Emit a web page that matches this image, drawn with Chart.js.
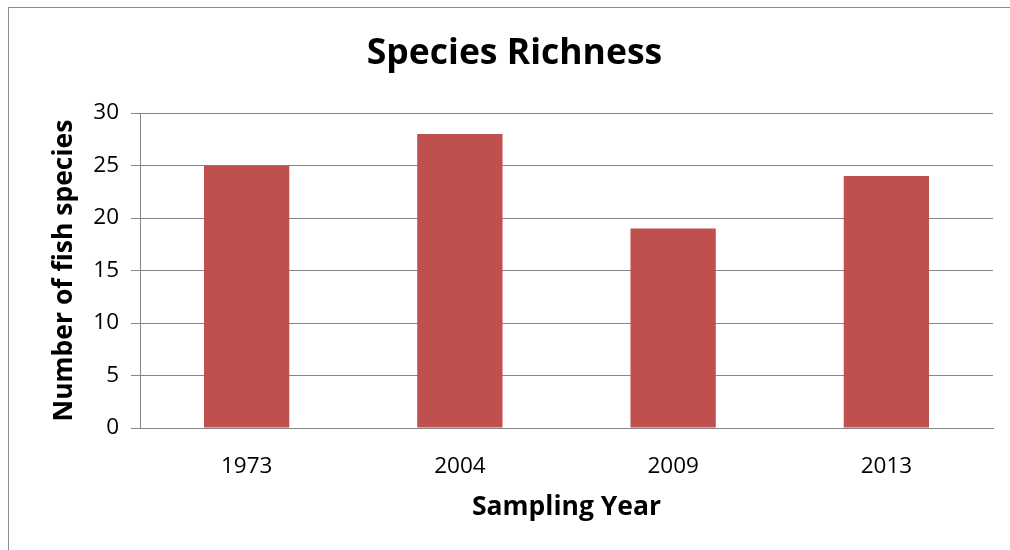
<!DOCTYPE html>
<html>
<head>
<meta charset="utf-8">
<script src="https://cdn.jsdelivr.net/npm/chart.js@4/dist/chart.umd.min.js"></script>
<style>
  body { margin: 0; background: #fff; }
  #wrap { position: relative; width: 1010px; height: 550px; overflow: hidden; }
  #frame { position: absolute; left: 8px; top: 7px; width: 1100px; height: 700px; border: 1px solid #8c8c8c; }
  #myChart { position: absolute; left: 0; top: 0; }
</style>
</head>
<body>
<div id="wrap">
  <div id="frame"></div>
  <canvas id="myChart" width="1010" height="550"></canvas>
</div>
<script>
const years = ["1973", "2004", "2009", "2013"];
const speciesCount = [25, 28, 19, 24];
const yTicks = [0, 5, 10, 15, 20, 25, 30];

const barColor = "#C0504D";
const gridColor = "#868686";
const fontName = "'Open Sans', sans-serif";

const ctx = document.getElementById("myChart").getContext("2d");
const myChart = new Chart(ctx, {
  type: "bar",
  data: {
    labels: years,
    datasets: [
      {
        label: "Species",
        data: speciesCount,
        backgroundColor: barColor,
        borderWidth: 0,
        categoryPercentage: 1,
        barPercentage: 0.4,
      },
    ],
  },
  options: {
    responsive: false,
    animation: false,
    // left padding pushes the title centre right, like the original
    layout: { padding: { left: 36, right: 17, top: 0, bottom: 0 } },
    plugins: {
      legend: { display: false },
      tooltip: { enabled: false },
      title: {
        display: true,
        text: "Species Richness",
        color: "#000",
        font: { family: fontName, size: 35.5, weight: "bold" },
        padding: { top: 33, bottom: 37.4 },
      },
    },
    scales: {
      x: {
        grid: { display: false },
        border: { display: true, color: gridColor, width: 1 },
        ticks: {
          color: "#000",
          font: { family: fontName, size: 22.5 },
          padding: 17,
        },
        title: {
          display: true,
          text: "Sampling Year",
          color: "#000",
          font: { family: fontName, size: 26.5, weight: "bold" },
          padding: { top: 0, bottom: 27 },
        },
        afterFit: (scale) => {
          scale.height = 122;
        },
      },
      y: {
        min: 0,
        max: 30,
        afterBuildTicks: (scale) => {
          scale.ticks = yTicks.map((v) => ({ value: v }));
        },
        grid: { color: gridColor, lineWidth: 1, tickLength: 9 },
        border: { display: true, color: gridColor, width: 1 },
        ticks: {
          color: "#000",
          font: { family: fontName, size: 22.5 },
          padding: 12,
        },
        title: {
          display: true,
          text: "Number of fish species",
          color: "#000",
          font: { family: fontName, size: 26.5, weight: "bold" },
          padding: { top: 13, bottom: 0 },
        },
        afterFit: (scale) => {
          scale.width = 104;
        },
      },
    },
  },
});
</script>
</body>
</html>
